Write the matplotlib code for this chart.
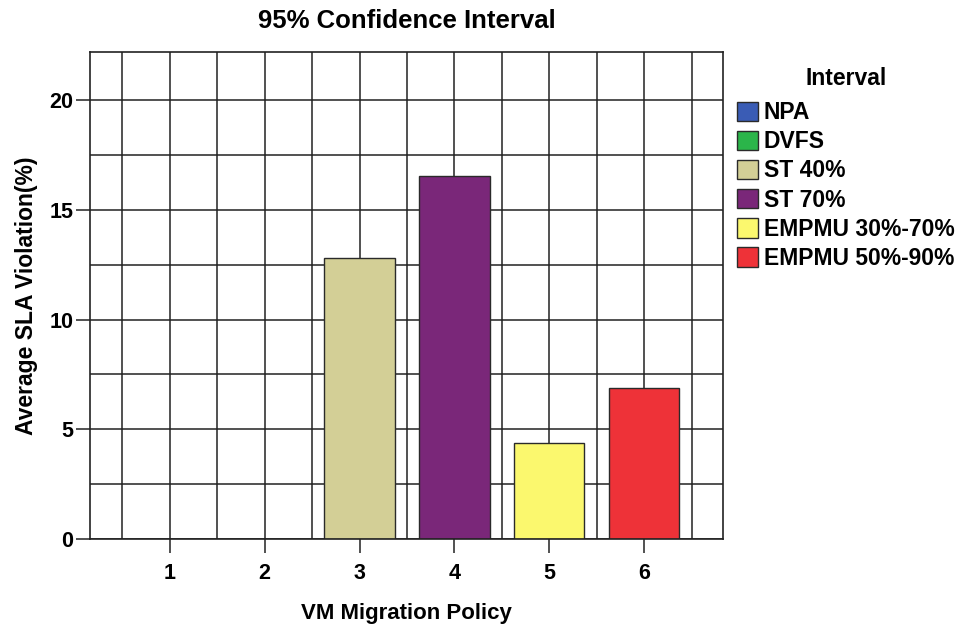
import numpy as np
import matplotlib
matplotlib.use("Agg")
import matplotlib.pyplot as plt
from matplotlib.patches import Patch

plt.rcParams['font.family'] = ['Liberation Sans', 'DejaVu Sans']
plt.rcParams['font.weight'] = 'bold'

categories = [1, 2, 3, 4, 5, 6]
labels = ["NPA", "DVFS", "ST 40%", "ST 70%", "EMPMU 30%-70%", "EMPMU 50%-90%"]
values = [0.0, 0.0, 12.83, 16.53, 4.38, 6.90]
colors = ["#3a5cb5", "#2bb54a", "#d3cf96", "#7a2779", "#fbf86e", "#ee3238"]

fig = plt.figure(figsize=(9.65, 6.28), dpi=100)
ax = fig.add_axes([90/965, 1-539/628, (723-90)/965, (539-52)/628])

ax.set_axisbelow(True)
bars = ax.bar(categories, values, width=0.74, color=colors, edgecolor="#2a2a2a", linewidth=1.0)

ax.set_xlim(0.16, 6.83)
ax.set_ylim(0, 22.2)
ax.set_xticks(categories)
ax.set_xticks(np.arange(0.5, 7.0, 0.5), minor=True)
ax.set_yticks([0, 5, 10, 15, 20])
ax.set_yticks(np.arange(0, 22.5, 2.5), minor=True)
ax.grid(True, which='both', color='#222222', linewidth=1.1)
ax.tick_params(which='major', length=10, width=1.1, labelsize=15.5, pad=2, color='#222222')
ax.tick_params(which='minor', length=0)
ax.tick_params(axis='x', pad=7)
for lab in ax.get_xticklabels() + ax.get_yticklabels():
    lab.set_fontweight('bold')
for s in ax.spines.values():
    s.set_color('#222222')
    s.set_linewidth(1.2)

ax.set_title("95% Confidence Interval", fontsize=18.5, fontweight='bold', pad=17)
ax.set_xlabel("VM Migration Policy", fontsize=16, fontweight='bold', labelpad=14)
ax.set_ylabel("Average SLA Violation(%)", fontsize=16.5, fontweight='bold', labelpad=8)

handles = [Patch(facecolor=c, edgecolor="#2a2a2a", linewidth=1.0) for c in colors]
leg = fig.legend(handles, labels, loc='upper left', bbox_to_anchor=(737/965, 1-67/628),
                 frameon=False, borderpad=0, borderaxespad=0, fontsize=16.5,
                 title="Interval", title_fontproperties={'weight': 'bold', 'size': 16.5},
                 handlelength=0.92, handleheight=0.92, handletextpad=0.25, labelspacing=0.27)
leg._legend_box.sep = 8
for t in leg.get_texts():
    t.set_fontweight('bold')

fig.savefig("out.png", dpi=100)
